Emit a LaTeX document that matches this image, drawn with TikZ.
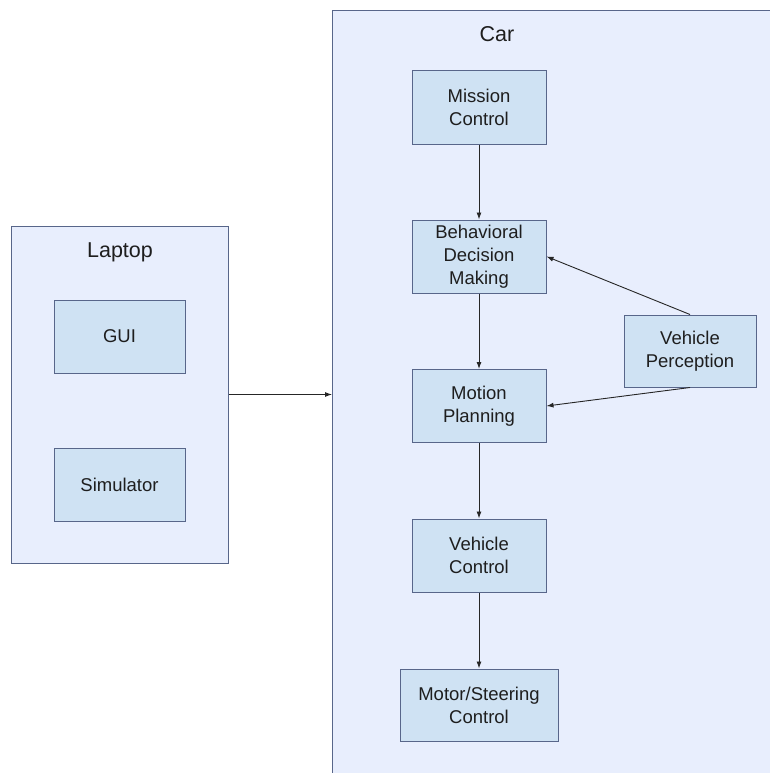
\documentclass[tikz,border=0pt]{standalone}
\usepackage{fontspec}
\setmainfont{Liberation Sans}
\usetikzlibrary{arrows.meta}
\definecolor{contfill}{RGB}{232,238,253}
\definecolor{boxfill}{RGB}{207,226,243}
\definecolor{edgecol}{RGB}{88,102,138}
\definecolor{txt}{RGB}{30,30,30}
\tikzset{
  container/.style={draw=edgecol, fill=contfill, line width=1pt, rectangle, inner sep=0pt},
  block/.style={draw=edgecol, fill=boxfill, line width=1pt, rectangle, inner sep=0pt,
    minimum width=134pt, minimum height=73pt, align=center, text=txt,
    font=\fontsize{18.5}{23}\selectfont},
  title/.style={text=txt, font=\fontsize{21.5}{26}\selectfont, inner sep=0pt},
  conn/.style={draw=black!85, line width=0.9pt, -{Latex[length=7pt,width=5pt]}},
}
\begin{document}
\begin{tikzpicture}[x=1pt,y=-1pt]
\useasboundingbox (0,0) rectangle (770,773);
\clip (0,0) rectangle (770,773);
% containers
\node[container, minimum width=217pt, minimum height=337pt] (laptop) at (119.5,394.5) {};
\node[container, minimum width=480pt, minimum height=800pt, anchor=north west] (car) at (332,10) {};
\node[title] (laptoptitle) at (120,252) {Laptop};
\node[title] (cartitle) at (497,34) {Car};
% laptop blocks
\node[block, minimum width=131pt] (gui) at (119.5,336.5) {GUI};
\node[block, minimum width=131pt] (sim) at (119.5,484.5) {Simulator};
% car blocks
\node[block] (mission) at (479,107.5) {Mission\\Control};
\node[block] (behav) at (479,256.5) {Behavioral\\Decision\\Making};
\node[block] (motion) at (479,406) {Motion\\Planning};
\node[block] (vctrl) at (479,555.5) {Vehicle\\Control};
\node[block, minimum width=158pt, minimum height=72pt] (motor) at (479,705) {Motor/Steering\\Control};
\node[block, minimum width=132pt, minimum height=72pt] (percep) at (690,351) {Vehicle\\Perception};
% connectors
\draw[conn] (laptop.east) -- (laptop.east -| car.west);
\draw[conn] (mission) -- (behav);
\draw[conn] (behav) -- (motion);
\draw[conn] (motion) -- (vctrl);
\draw[conn] (vctrl) -- (motor);
\draw[conn] (percep.north) -- (behav.east);
\draw[conn] (percep.south) -- (motion.east);
\end{tikzpicture}
\end{document}
